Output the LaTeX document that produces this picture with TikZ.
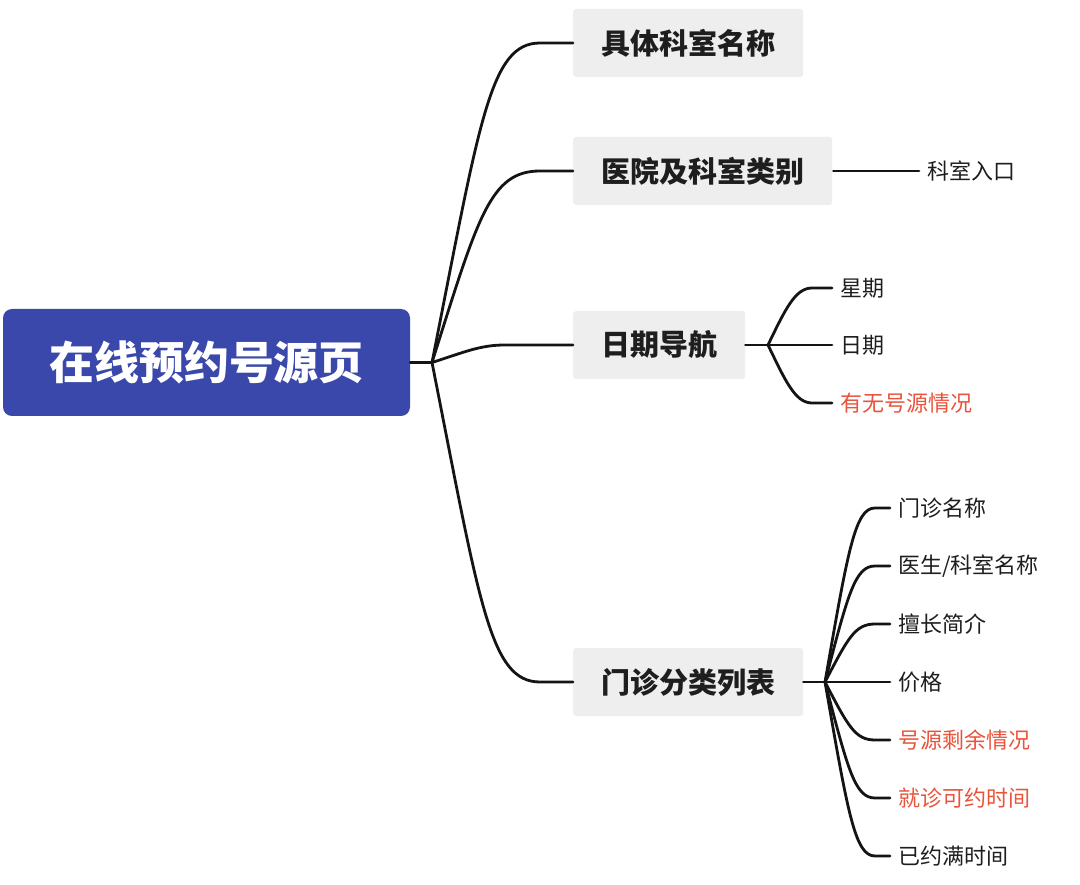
\documentclass[tikz,border=0pt]{standalone}
\usepackage{fontspec}
\setmainfont{Noto Sans CJK SC}
\definecolor{rootblue}{RGB}{57,72,170}
\definecolor{boxgray}{RGB}{238,238,238}
\definecolor{textdark}{RGB}{30,30,30}
\definecolor{hotred}{RGB}{232,84,60}
\begin{document}
\begin{tikzpicture}[x=1pt,y=-1pt,
  conn/.style={line width=2.8pt, draw=black!92, line cap=round},
  rootbox/.style={fill=rootblue, rounded corners=9pt, minimum width=407pt, minimum height=107pt, text=white, font=\fontsize{45}{50}\selectfont\bfseries, inner sep=0pt},
  branchbox/.style={fill=boxgray, rounded corners=3pt, anchor=west, minimum height=68pt, inner xsep=28pt, inner ysep=0pt, font=\fontsize{29}{34}\selectfont\bfseries, text=textdark},
  leaf/.style={anchor=west, inner xsep=8pt, inner ysep=0pt, font=\fontsize{22}{26}\selectfont, text=textdark},
  hot/.style={leaf, text=hotred}]
\useasboundingbox (0,0) rectangle (1080,885);
\fill[white] (0,0) rectangle (1080,885);

% root
\node[rootbox] (root) at (206.5,362.5) {在线预约号源页};

% branches
\node[branchbox] (b1) at (573,43) {具体科室名称};
\node[branchbox] (b2) at (573,171) {医院及科室类别};
\node[branchbox] (b3) at (573,345) {日期导航};
\node[branchbox] (b4) at (573,682) {门诊分类列表};

% leaves
\node[leaf] (k1) at (919,171) {科室入口};
\node[leaf] (d1) at (832,288) {星期};
\node[leaf] (d2) at (832,345) {日期};
\node[hot]  (d3) at (832,403) {有无号源情况};
\node[leaf] (m1) at (890,508) {门诊名称};
\node[leaf] (m2) at (890,566) {医生/科室名称};
\node[leaf] (m3) at (890,624) {擅长简介};
\node[leaf] (m4) at (890,682) {价格};
\node[hot]  (m5) at (890,740) {号源剩余情况};
\node[hot]  (m6) at (890,798) {就诊可约时间};
\node[leaf] (m7) at (890,856) {已约满时间};

% root connectors
\coordinate (rj) at (432,362.5);
\draw[conn] (root.east) -- (rj);
\draw[conn] (rj) .. controls (480,120) and (490,43) .. (540,43) -- (b1.west);
\draw[conn] (rj) .. controls (478,217) and (490,171) .. (540,171) -- (b2.west);
\draw[conn] (rj) .. controls (465,352) and (480,345) .. (505,345) -- (b3.west);
\draw[conn] (rj) .. controls (480,605) and (490,682) .. (540,682) -- (b4.west);

% branch 2
\draw[conn] (b2.east) ++(1,0) -- (k1.west);

% branch 3
\coordinate (dj) at (768,345);
\draw[conn] (b3.east) -- (dj);
\draw[conn] (dj) .. controls (785,310) and (795,288) .. (812,288) -- (d1.west);
\draw[conn] (dj) -- (d2.west);
\draw[conn] (dj) .. controls (785,380) and (795,403) .. (812,403) -- (d3.west);

% branch 4
\coordinate (mj) at (825,682);
\draw[conn] (b4.east) -- (mj);
\draw[conn] (mj) .. controls (848,550) and (855,508) .. (875,508) -- (m1.west);
\draw[conn] (mj) .. controls (848,594) and (855,566) .. (875,566) -- (m2.west);
\draw[conn] (mj) .. controls (848,638) and (855,624) .. (875,624) -- (m3.west);
\draw[conn] (mj) -- (m4.west);
\draw[conn] (mj) .. controls (848,726) and (855,740) .. (875,740) -- (m5.west);
\draw[conn] (mj) .. controls (848,770) and (855,798) .. (875,798) -- (m6.west);
\draw[conn] (mj) .. controls (848,814) and (855,856) .. (875,856) -- (m7.west);
\end{tikzpicture}
\end{document}
